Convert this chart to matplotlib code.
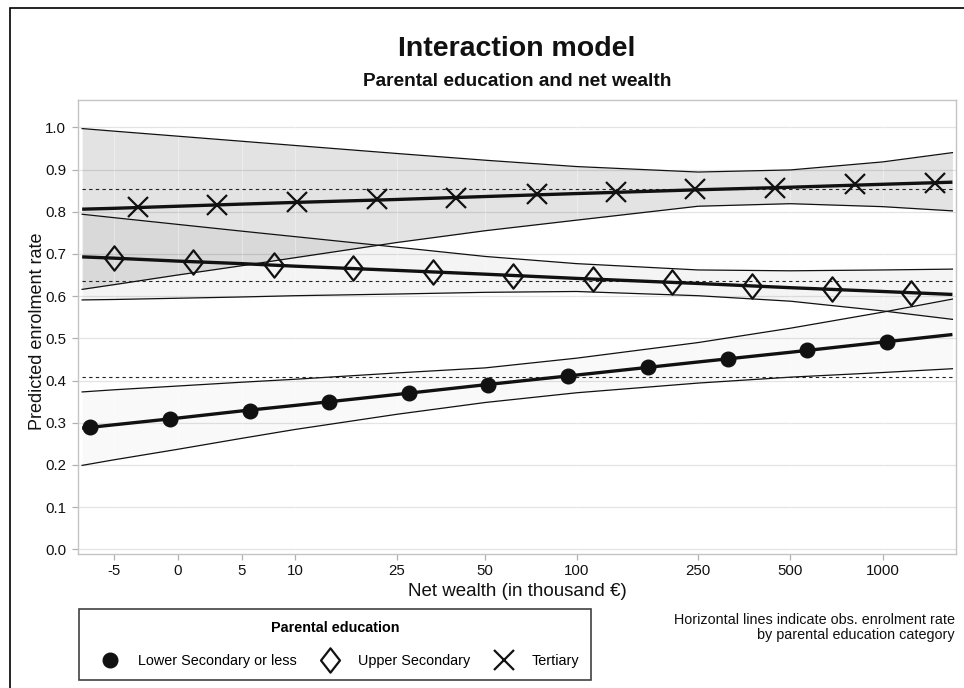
import numpy as np
import matplotlib
matplotlib.use("Agg")
import matplotlib.pyplot as plt
from matplotlib.lines import Line2D
from matplotlib.path import Path
from matplotlib.patches import Rectangle

plt.rcParams['font.family'] = ['Liberation Sans', 'DejaVu Sans']

# ---------------- data ----------------
x_grid = [-7.8, -5, 0, 5, 10, 25, 50, 100, 250, 500, 1000, 1690]

lower_fit = [0.287, 0.295, 0.311, 0.328, 0.341, 0.367, 0.390, 0.413, 0.444, 0.467, 0.491, 0.509]
lower_lo = [0.199, 0.212, 0.237, 0.263, 0.284, 0.320, 0.348, 0.371, 0.394, 0.408, 0.419, 0.428]
lower_hi = [0.373, 0.378, 0.387, 0.396, 0.403, 0.418, 0.430, 0.453, 0.490, 0.524, 0.562, 0.593]

upper_fit = [0.693, 0.690, 0.683, 0.677, 0.671, 0.661, 0.652, 0.642, 0.630, 0.620, 0.611, 0.604]
upper_lo = [0.591, 0.592, 0.595, 0.598, 0.601, 0.605, 0.609, 0.611, 0.601, 0.588, 0.565, 0.545]
upper_hi = [0.794, 0.786, 0.770, 0.754, 0.741, 0.716, 0.694, 0.677, 0.662, 0.660, 0.662, 0.664]

tert_fit = [0.806, 0.808, 0.813, 0.818, 0.822, 0.829, 0.836, 0.843, 0.852, 0.858, 0.865, 0.870]
tert_lo = [0.616, 0.627, 0.650, 0.672, 0.691, 0.727, 0.755, 0.780, 0.813, 0.819, 0.812, 0.802]
tert_hi = [0.997, 0.991, 0.979, 0.967, 0.957, 0.938, 0.922, 0.907, 0.894, 0.899, 0.918, 0.940]

lower_mx = [-7.1, -0.6, 5.7, 14, 27.6, 51, 94, 171, 312, 568, 1035]
lower_my = [0.289, 0.309, 0.329, 0.349, 0.370, 0.389, 0.411, 0.432, 0.452, 0.472, 0.492]
upper_mx = [-4.95, 1.2, 7.9, 17.4, 33.4, 62, 113, 206, 375, 683, 1242]
upper_my = [0.690, 0.680, 0.674, 0.666, 0.656, 0.648, 0.641, 0.633, 0.625, 0.616, 0.608]
tert_mx = [-3.05, 3.0, 10.2, 21.2, 40, 74, 135, 245, 447, 814, 1480]
tert_my = [0.810, 0.817, 0.822, 0.829, 0.833, 0.841, 0.846, 0.853, 0.857, 0.865, 0.869]

obs_rates = [0.408, 0.635, 0.855]

x_ticks = [-5, 0, 5, 10, 25, 50, 100, 250, 500, 1000]
y_ticks = [0.0, 0.1, 0.2, 0.3, 0.4, 0.5, 0.6, 0.7, 0.8, 0.9, 1.0]
labels = ['Lower Secondary or less', 'Upper Secondary', 'Tertiary']

# ---------------- figure ----------------
W, H = 964, 688
fig = plt.figure(figsize=(W / 100, H / 100), dpi=100)
ax = fig.add_axes([78 / W, 1 - 554 / H, (956 - 78) / W, (554 - 100) / H])

ax.set_xscale('function', functions=(lambda v: np.arcsinh(np.asarray(v) / 10.0),
                                     lambda u: 10.0 * np.sinh(np.asarray(u))))
ax.set_xlim(-8.2, 1736)
ax.set_ylim(-0.011, 1.0647)

# grid
for yv in y_ticks:
    ax.axhline(yv, color='#e4e4e4', lw=0.9, zorder=0.5)

# CI bands
ax.fill_between(x_grid, tert_lo, tert_hi, color='black', alpha=0.11, lw=0, zorder=1)
ax.fill_between(x_grid, upper_lo, upper_hi, color='black', alpha=0.045, lw=0, zorder=1)
ax.fill_between(x_grid, lower_lo, lower_hi, color='black', alpha=0.022, lw=0, zorder=1)

for xv in x_ticks:
    ax.axvline(xv, color='white', lw=0.8, alpha=0.35, zorder=1.5)

for arr in (tert_lo, tert_hi, upper_lo, upper_hi, lower_lo, lower_hi):
    ax.plot(x_grid, arr, color='#111111', lw=0.9, zorder=2)

# observed rates
for r in obs_rates:
    ax.plot([x_grid[0], x_grid[-1]], [r, r], color='#222222', lw=0.8,
            ls=(0, (3, 3)), zorder=2)

# fitted lines
for fit in (lower_fit, upper_fit, tert_fit):
    ax.plot(x_grid, fit, color='#111111', lw=2.4, zorder=3, solid_capstyle='butt')

diamond = Path([(0, 1), (0.78, 0), (0, -1), (-0.78, 0), (0, 1)],
               [Path.MOVETO, Path.LINETO, Path.LINETO, Path.LINETO, Path.CLOSEPOLY])

ax.plot(lower_mx, lower_my, ls='none', marker='o', ms=10.5, mfc='#111111',
        mec='#111111', zorder=4)
ax.plot(upper_mx, upper_my, ls='none', marker=diamond, ms=17.5, mfc='none',
        mec='#111111', mew=1.6, zorder=4)
ax.plot(tert_mx, tert_my, ls='none', marker='x', ms=14, mec='#111111',
        mew=1.6, zorder=4)

# axes styling
for s in ax.spines.values():
    s.set_color('#c4c4c4')
    s.set_linewidth(1.0)
ax.set_xticks(x_ticks)
ax.set_xticklabels([str(v) for v in x_ticks])
ax.set_yticks(y_ticks)
ax.set_yticklabels(['%.1f' % v for v in y_ticks])
ax.tick_params(axis='both', direction='out', length=4, width=0.9, color='#b0b0b0',
               labelsize=10.8, labelcolor='#111111')
ax.tick_params(axis='x', pad=3.5)
ax.tick_params(axis='y', pad=4.5)
ax.minorticks_off()

ax.set_ylabel('Predicted enrolment rate', fontsize=13, color='#111111')
ax.yaxis.set_label_coords(-0.037, 0.49)
ax.set_xlabel('Net wealth (in thousand €)', fontsize=13.5, color='#111111')
ax.xaxis.set_label_coords(0.5, -0.063)

# titles
fig.text(517 / W, 1 - 48.5 / H, 'Interaction model', ha='center', va='center',
         fontsize=20.5, fontweight='bold', color='#111111')
fig.text(517 / W, 1 - 81.5 / H, 'Parental education and net wealth', ha='center',
         va='center', fontsize=13.8, fontweight='bold', color='#111111')

# legend
handles = [
    Line2D([], [], ls='none', marker='o', ms=10.5, mfc='#111111', mec='#111111'),
    Line2D([], [], ls='none', marker=diamond, ms=17.5, mfc='none', mec='#111111', mew=1.6),
    Line2D([], [], ls='none', marker='x', ms=14, mec='#111111', mew=1.6),
]
leg = fig.legend(handles, labels, ncol=3, loc='upper left',
                 bbox_to_anchor=(79 / W, 1 - 609 / H), fontsize=10.4,
                 title='Parental education',
                 title_fontproperties={'weight': 'bold', 'size': 10.4},
                 frameon=True, fancybox=False, edgecolor='#111111',
                 handlelength=2.6, handletextpad=0.6, columnspacing=1.05,
                 borderpad=0.85, labelspacing=1.3, borderaxespad=0)
leg.get_frame().set_linewidth(1.2)

fig.text(955 / W, 1 - 613 / H,
         'Horizontal lines indicate obs. enrolment rate\nby parental education category',
         ha='right', va='top', fontsize=10.4, multialignment='right', color='#111111',
         linespacing=1.05)

# outer border
fig.add_artist(Rectangle((10 / W, -0.5), 2, 1 - 8 / H + 0.5, transform=fig.transFigure,
                         fill=False, edgecolor='black', lw=1.2, clip_on=False))

fig.savefig('out.png', dpi=100)
